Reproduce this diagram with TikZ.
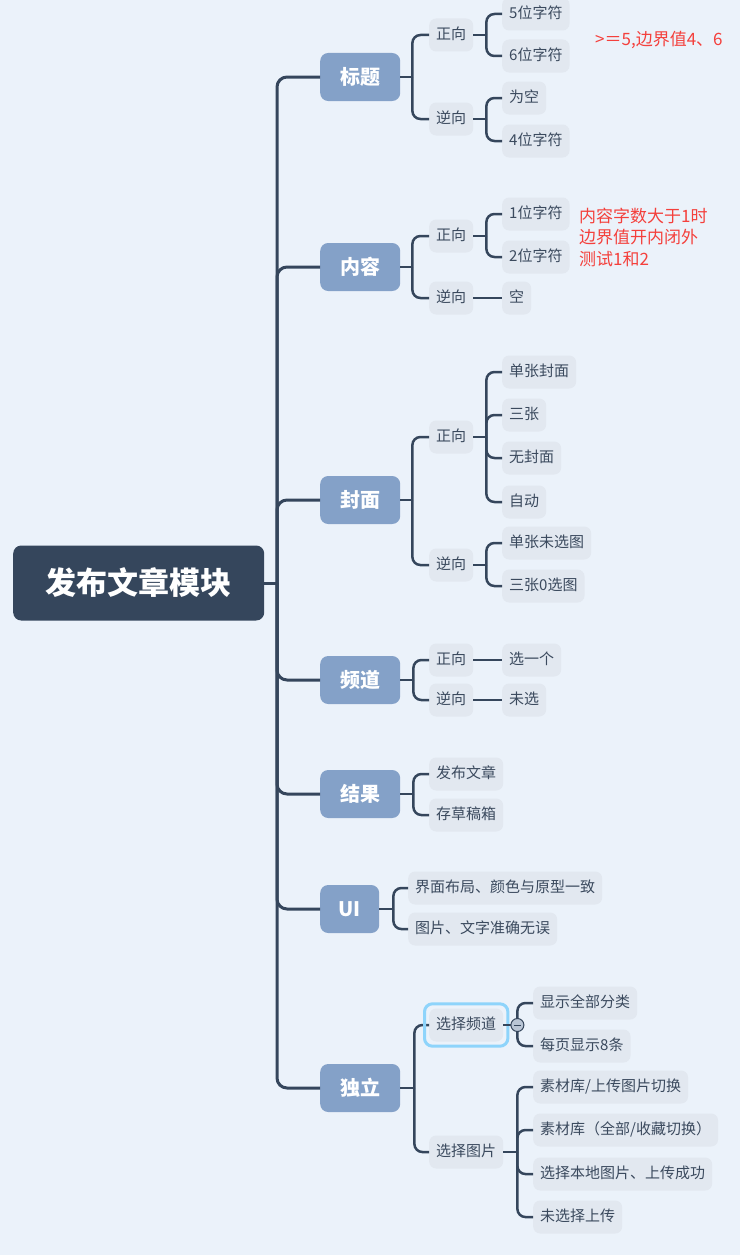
\documentclass[tikz,border=0pt]{standalone}
\usepackage{fontspec}
\newfontfamily\cjk{Noto Sans CJK SC}
\usetikzlibrary{fit}
\definecolor{bgc}{HTML}{EBF2FA}
\definecolor{leafc}{HTML}{E2E8F0}
\definecolor{lonec}{HTML}{84A1C8}
\definecolor{rootc}{HTML}{35465C}
\definecolor{linec}{HTML}{35465C}
\definecolor{textc}{HTML}{3B4A5E}
\definecolor{redc}{HTML}{F4403C}
\definecolor{hlc}{HTML}{8ED4FB}
\definecolor{circc}{HTML}{B9C5D5}
\tikzset{
  rootbox/.style={fill=rootc, rounded corners=8pt, minimum width=251pt, minimum height=75pt, anchor=west, text=white, font=\cjk\bfseries\fontsize{31}{31}\selectfont, inner sep=0pt},
  lone/.style={fill=lonec, rounded corners=8pt, minimum width=80pt, minimum height=48pt, anchor=west, text=white, font=\cjk\bfseries\fontsize{20}{20}\selectfont, inner sep=0pt},
  leaf/.style={fill=leafc, rounded corners=7pt, minimum height=33pt, inner xsep=7pt, inner ysep=0pt, anchor=west, text=textc, text height=12pt, text depth=2.5pt, font=\cjk\fontsize{15}{15}\selectfont},
  conn/.style={draw=linec, line width=2.5pt, rounded corners=8pt},
  connone/.style={draw=linec, line width=3pt, rounded corners=10pt},
  note/.style={text=redc, anchor=west, inner sep=0pt, font=\cjk\fontsize{17}{21.5}\selectfont, align=left}
}
\newcommand\brk[3]{\draw[conn] (#1.east) -- ++(#2,0) coordinate (J#1);
  \foreach \c in {#3} {\draw[conn] (J#1) |- (\c.west);}}
\newcommand\lnk[2]{\draw[draw=linec, line width=2.5pt] (#1.east) -- (#2.west);}
\begin{document}
\begin{tikzpicture}[x=1pt,y=-1pt]
\fill[bgc] (0,0) rectangle (740,1255);
\useasboundingbox (0,0) rectangle (740,1255);

% root
\node[rootbox] (root) at (13,583) {发布文章模块};
\draw[connone] (root.east) -- (277,583) coordinate (T);

% level 1
\node[lone] (a) at (320,77) {标题};
\node[lone] (b) at (320,267) {内容};
\node[lone] (c) at (320,500) {封面};
\node[lone] (d) at (320,680) {频道};
\node[lone] (e) at (320,794) {结果};
\node[lone, minimum width=59pt] (f) at (320,909) {UI};
\node[lone] (g) at (320,1088) {独立};
\foreach \n in {a,b,c,d,e,f,g} {\draw[connone] (T) |- (\n.west);}

% 标题
\node[leaf] (a1) at (429,35) {正向};
\node[leaf] (a2) at (429,119) {逆向};
\brk{a}{12}{a1,a2}
\node[leaf] (a11) at (502,14) {5位字符};
\node[leaf] (a12) at (502,56) {6位字符};
\brk{a1}{13}{a11,a12}
\node[leaf] (a21) at (502,98) {为空};
\node[leaf] (a22) at (502,141) {4位字符};
\brk{a2}{13}{a21,a22}
\node[note] (na) at (595,40) {>＝5,边界值4、6};

% 内容
\node[leaf] (b1) at (429,236) {正向};
\node[leaf] (b2) at (429,298) {逆向};
\brk{b}{12}{b1,b2}
\node[leaf] (b11) at (502,214) {1位字符};
\node[leaf] (b12) at (502,257) {2位字符};
\brk{b1}{13}{b11,b12}
\node[leaf] (b21) at (502,298) {空};
\lnk{b2}{b21}
\node[note] (nb) at (579,237) {内容字数大于1时\\边界值开内闭外\\测试1和2};

% 封面
\node[leaf] (c1) at (429,437) {正向};
\node[leaf] (c2) at (429,565) {逆向};
\brk{c}{12}{c1,c2}
\node[leaf] (c11) at (502,372) {单张封面};
\node[leaf] (c12) at (502,415) {三张};
\node[leaf] (c13) at (502,458) {无封面};
\node[leaf] (c14) at (502,502) {自动};
\brk{c1}{13}{c11,c12,c13,c14}
\node[leaf] (c21) at (502,543) {单张未选图};
\node[leaf] (c22) at (502,586) {三张0选图};
\brk{c2}{13}{c21,c22}

% 频道
\node[leaf] (d1) at (429,660) {正向};
\node[leaf] (d2) at (429,700) {逆向};
\brk{d}{13}{d1,d2}
\node[leaf] (d11) at (502,660) {选一个};
\node[leaf] (d21) at (502,700) {未选};
\lnk{d1}{d11}
\lnk{d2}{d21}

% 结果
\node[leaf] (e1) at (429,774) {发布文章};
\node[leaf] (e2) at (429,815) {存草稿箱};
\brk{e}{13}{e1,e2}

% UI
\node[leaf] (f1) at (408,888) {界面布局、颜色与原型一致};
\node[leaf] (f2) at (408,929) {图片、文字准确无误};
\brk{f}{14}{f1,f2}

% 独立
\node[leaf] (g1) at (429,1025) {选择频道};
\node[leaf] (g2) at (429,1152) {选择图片};
\brk{g}{14}{g1,g2}
\node[draw=hlc, line width=3pt, rounded corners=8pt, inner sep=4.5pt, fit=(g1)] (g1h) {};
\node[leaf] (g11) at (533,1003) {显示全部分类};
\node[leaf] (g12) at (533,1046) {每页显示8条};
\brk{g1}{14}{g11,g12}
\node[leaf] (g21) at (533,1087) {素材库/上传图片切换};
\node[leaf] (g22) at (533,1130) {素材库（全部/收藏切换）};
\node[leaf] (g23) at (533,1174) {选择本地图片、上传成功};
\node[leaf] (g24) at (533,1217) {未选择上传};
\brk{g2}{14}{g21,g22,g23,g24}
\node[circle, fill=circc, draw=linec, line width=1pt, minimum size=13pt, inner sep=0pt] (cc) at (Jg1) {};
\draw[linec, line width=1pt] ([xshift=-3.5pt]cc.center) -- ([xshift=3.5pt]cc.center);
\end{tikzpicture}
\end{document}
